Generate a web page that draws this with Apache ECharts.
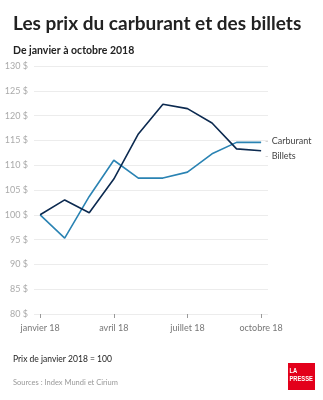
<!DOCTYPE html>
<html><head><meta charset="utf-8">
<script src="https://cdn.jsdelivr.net/npm/echarts@6/dist/echarts.min.js"></script>
<style>html,body{margin:0;padding:0;background:#fff}#c{width:323px;height:400px}</style>
</head><body><div id="c"></div>
<script>
const months = [0,1,2,3,4,5,6,7,8,9];
const tickMonths = [0,3,6,9];
const tickLabels = ['janvier 18','avril 18','juillet 18','octobre 18'];
const carburant = [100,95.3,103.7,111,107.4,107.4,108.6,112.3,114.6,114.6];
const billets = [100,103,100.4,107.2,116.3,122.3,121.4,118.5,113.3,112.9];

const font = 'Lato, "Noto Sans", sans-serif';
const chart = echarts.init(document.getElementById('c'), null, {renderer:'canvas'});
chart.setOption({
  animation:false,
  textStyle:{fontFamily:font},
  title:[
    {text:'Les prix du carburant et des billets', left:8, top:9,
     textStyle:{fontFamily:font,fontSize:19,fontWeight:'bold',color:'#222'}},
    {text:'De janvier à octobre 2018', left:8, top:40,
     textStyle:{fontFamily:font,fontSize:10.5,fontWeight:'bold',color:'#222'}},
    {text:'Prix de janvier 2018 = 100', left:8, top:350,
     textStyle:{fontFamily:font,fontSize:8.5,fontWeight:'normal',color:'#222'}},
    {text:'Sources : Index Mundi et Cirium', left:8, top:374,
     textStyle:{fontFamily:font,fontSize:7.5,fontWeight:'normal',color:'#999'}}
  ],
  graphic:[
    {type:'rect', shape:{x:288,y:363,width:27,height:27}, style:{fill:'#e3001b'}},
    {type:'text', x:289.5, y:367.5, scaleX:0.72, style:{text:'LA\nPRESSE', fill:'#fff', font:'bold 8px "Liberation Sans", sans-serif', lineHeight:7.5}}
  ],
  grid:{left:34,right:55,top:66,bottom:86},
  xAxis:{type:'value', min:-0.25, max:9.28,
    axisLine:{show:false}, splitLine:{show:false},
    axisTick:{show:true, customValues:tickMonths, length:4, lineStyle:{color:'#999'}},
    axisLabel:{customValues:tickMonths, formatter:v=>tickLabels[tickMonths.indexOf(v)], color:'#777', fontSize:9, margin:10}
  },
  yAxis:{type:'value', min:80, max:130, interval:5,
    axisLine:{show:false}, axisTick:{show:false},
    axisLabel:{formatter:'{value} $', color:'#aaa', fontSize:9, margin:6},
    splitLine:{lineStyle:{color:'#ececec', width:1}}
  },
  series:[
    {name:'Carburant', type:'line', data:months.map((m,i)=>[m,carburant[i]]),
     symbol:'none', lineStyle:{color:'#2a83b3', width:1.6},
     endLabel:{show:true, formatter:'{d|–} {n|Carburant}', offset:[-4,-1],
       rich:{d:{color:'#999',fontSize:6},n:{color:'#444',fontSize:9,fontFamily:font}}}},
    {name:'Billets', type:'line', data:months.map((m,i)=>[m,billets[i]]),
     symbol:'none', lineStyle:{color:'#0c2a50', width:1.6},
     endLabel:{show:true, formatter:'{d|–} {n|Billets}', offset:[-4,5],
       rich:{d:{color:'#999',fontSize:6},n:{color:'#444',fontSize:9,fontFamily:font}}}}
  ]
});
</script></body></html>
